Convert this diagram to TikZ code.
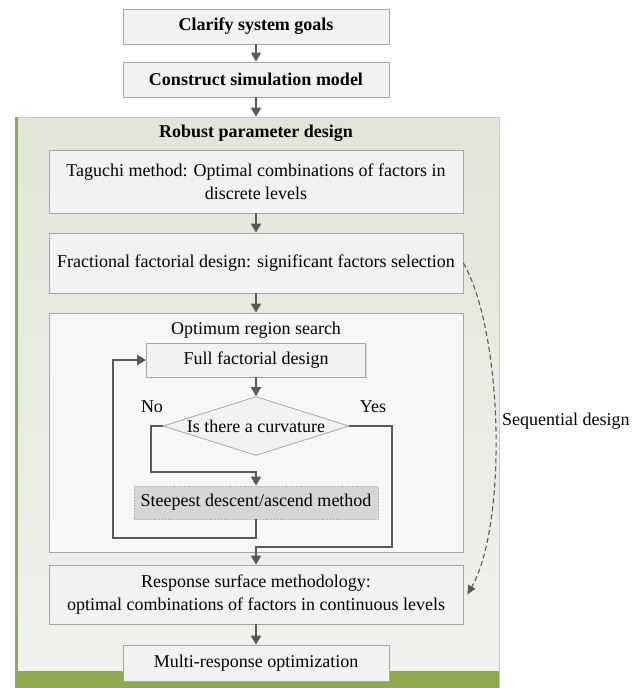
\documentclass[tikz,border=0pt]{standalone}
\usepackage{fontspec}
\setmainfont{Liberation Serif}
\usepackage{xcolor}
\usepackage{tikz}
\usetikzlibrary{arrows.meta,positioning,shapes.geometric,shadows,calc}
\definecolor{boxfill}{HTML}{F2F2F2}
\definecolor{boxline}{HTML}{A6A6A6}
\definecolor{arrowgray}{HTML}{595959}
\definecolor{rpdtop}{HTML}{E1E6D7}
\definecolor{rpdbot}{HTML}{F1F2ED}
\definecolor{rpdband}{HTML}{8FA94F}
\definecolor{steepfill}{HTML}{D6D6D6}
\tikzset{
  box/.style={rectangle, draw=boxline, line width=0.8pt, fill=boxfill,
    align=center, inner sep=0pt, font=\fontsize{18}{22.5}\selectfont,
    drop shadow={shadow xshift=1.2pt, shadow yshift=-1.2pt, opacity=.25}},
  boldbox/.style={box, font=\fontsize{18}{22.5}\selectfont\bfseries},
  flow/.style={-{Triangle[length=9pt,width=10pt]}, line width=1.9pt, draw=arrowgray},
  flowd/.style={-{Triangle[length=9pt,width=8pt]}, line width=1.1pt,
    draw=arrowgray, dash pattern=on 5pt off 3pt},
}
\begin{document}
\begin{tikzpicture}[x=1pt, y=-1pt,
  every node/.style={font=\fontsize{18}{22.5}\selectfont},
  dec/.style={diamond, aspect=3, draw=boxline, line width=0.8pt, fill=boxfill,
              inner sep=0pt, minimum width=186pt},
  lbl/.style={inner sep=0pt},
]
\useasboundingbox (0,0) rectangle (639,688);
% container
\node[rectangle, draw=boxline!60, line width=0.6pt, top color=rpdtop, bottom color=rpdbot,
      inner sep=0pt, minimum width=484pt, minimum height=571pt] (rpd) at (257,402.5) {};
\fill[rpdband] (rpd.south west) rectangle ($(rpd.south east)+(0,-17)$);
\draw[rpdband, line width=3pt] ([xshift=2pt]rpd.south west) -- ([xshift=2pt]rpd.north west);
\node[font=\fontsize{18}{22.5}\selectfont\bfseries] (rpdtitle) at (256,133) {Robust parameter design};
% steps
\node[boldbox, minimum width=266pt, minimum height=35pt] (goals) at (256,26.5) {Clarify system goals};
\node[boldbox, minimum width=266pt, minimum height=35pt] (model) at (256,79.5) {Construct simulation model};
\node[box, minimum width=414pt, minimum height=63pt] (taguchi) at (256,181.5)
  {Taguchi method: Optimal combinations of factors in\\discrete levels};
\node[box, minimum width=414pt, minimum height=60pt] (frac) at (256,263)
  {Fractional factorial design: significant factors selection};
\node[box, fill=boxfill!60!white, minimum width=414pt, minimum height=239pt] (opt) at (256,432.5) {};
\node (opttitle) at (256,330) {Optimum region search};
\node[box, drop shadow={opacity=0}, minimum width=219pt, minimum height=34pt] (full) at (256,360) {Full factorial design};
\node[dec] (curv) at (256,426) {Is there a curvature};
\node[box, fill=steepfill, dotted, minimum width=244pt, minimum height=33pt] (steep) at (256,502.5)
  {Steepest descent/ascend method};
\node[box, minimum width=414pt, minimum height=59pt] (rsm) at (256,594.5)
  {Response surface methodology:\\optimal combinations of factors in continuous levels};
\node[box, minimum width=266pt, minimum height=36pt] (multi) at (256,663) {Multi-response optimization};
% labels
\node[lbl] (no)  at (152,407) {No};
\node[lbl] (yes) at (373,407) {Yes};
\node[lbl, anchor=west] (seqlbl) at (502,421) {Sequential design};
% edges
\draw[flow] (goals) -- (model);
\draw[flow] (model) -- (rpd.north -| model.south);
\draw[flow] (taguchi) -- (frac);
\draw[flow] (frac) -- (opt);
\draw[flow] (full) -- (curv);
\draw[flow] (curv.west) -- ++(-12,0) |- ([yshift=14pt]steep.north) -- (steep.north);
\draw[flow] (steep.south) -- ++(0,19) -| ([xshift=-33pt]full.west) -- (full.west);
\draw[flow] (curv.east) -- ++(43,0) |- ([yshift=18pt]rsm.north) -- (rsm.north);
\draw[flow] (rsm) -- (multi);
\draw[flowd] (frac.east) .. controls +(40,70) and +(40,-70) .. ([xshift=4pt]rsm.east);
\end{tikzpicture}
\end{document}
